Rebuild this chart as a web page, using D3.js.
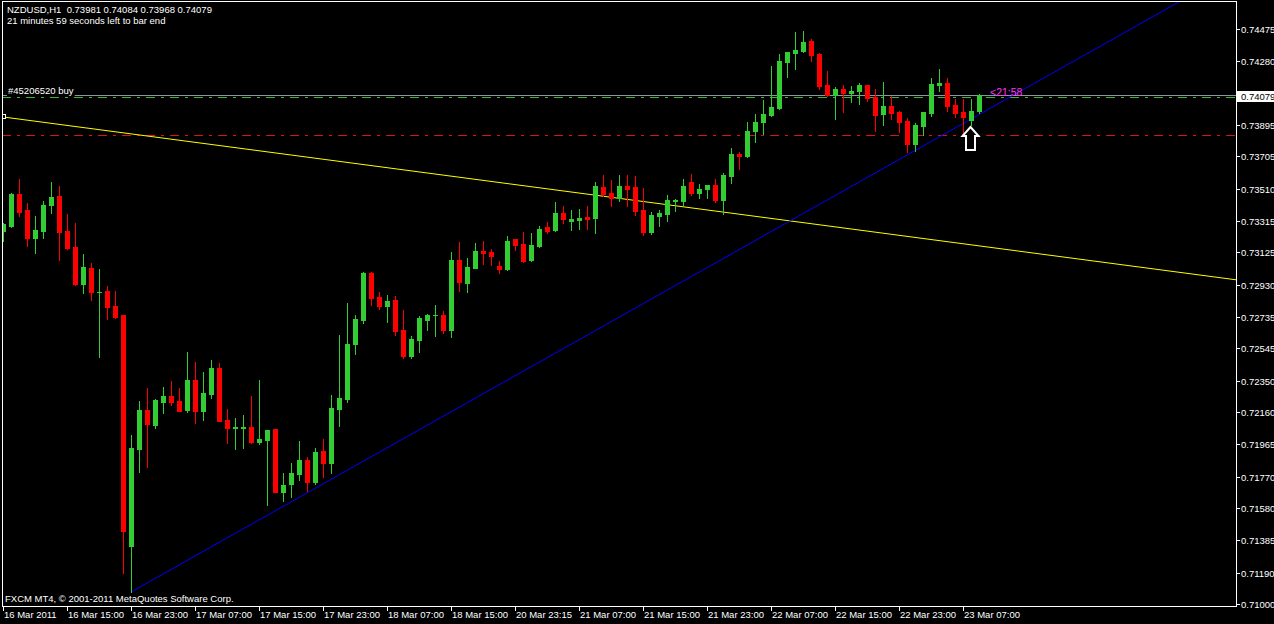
<!DOCTYPE html>
<html><head><meta charset="utf-8">
<script src="https://cdn.jsdelivr.net/npm/d3@7"></script>
<style>html,body{margin:0;padding:0;background:#000;overflow:hidden}</style>
</head><body>
<script>
// ---- data (NZDUSD H1, one bar per hour) ----
const opens=[0.73254,0.73284,0.73478,0.73381,0.73214,0.73256,0.73413,0.73466,0.73254,0.73157,0.72936,0.73030,0.72885,0.72891,0.72801,0.72746,0.71352,0.71939,0.72172,0.72082,0.72222,0.72257,0.72227,0.72172,0.72354,0.72168,0.72271,0.72426,0.72112,0.72065,0.72065,0.72068,0.71981,0.71993,0.72058,0.71679,0.71727,0.71787,0.71870,0.71739,0.71925,0.71854,0.72180,0.72241,0.72573,0.72718,0.73000,0.72855,0.72803,0.72837,0.72656,0.72501,0.72597,0.72718,0.72744,0.72746,0.72658,0.73079,0.72942,0.73032,0.73133,0.73127,0.73043,0.73024,0.73206,0.73175,0.73081,0.73165,0.73278,0.73262,0.73363,0.73316,0.73322,0.73339,0.73334,0.73520,0.73484,0.73455,0.73526,0.73520,0.73381,0.73250,0.73347,0.73359,0.73438,0.73437,0.73550,0.73486,0.73510,0.73532,0.73441,0.73588,0.73719,0.73709,0.73860,0.73915,0.73957,0.73997,0.74275,0.74332,0.74342,0.74402,0.74324,0.74136,0.74076,0.74112,0.74088,0.74100,0.74136,0.74064,0.73961,0.74009,0.73973,0.73919,0.73780,0.73889,0.73967,0.74136,0.74148,0.74015,0.73973,0.73925,0.73981];
const highs=[0.73304,0.73486,0.73568,0.73425,0.73345,0.73435,0.73550,0.73528,0.73357,0.73302,0.73115,0.73061,0.73024,0.72922,0.72891,0.72748,0.72021,0.72227,0.72305,0.72236,0.72311,0.72348,0.72305,0.72523,0.72462,0.72402,0.72475,0.72456,0.72178,0.72126,0.72142,0.72257,0.72354,0.72052,0.72058,0.71792,0.71852,0.71985,0.71888,0.71943,0.71997,0.72263,0.72626,0.72819,0.72746,0.73006,0.73006,0.72885,0.72867,0.72861,0.72777,0.72620,0.72740,0.72753,0.72807,0.72771,0.73127,0.73188,0.73091,0.73182,0.73194,0.73145,0.73073,0.73224,0.73208,0.73248,0.73242,0.73284,0.73308,0.73429,0.73405,0.73381,0.73387,0.73405,0.73550,0.73592,0.73562,0.73592,0.73592,0.73586,0.73514,0.73369,0.73381,0.73472,0.73447,0.73568,0.73598,0.73538,0.73534,0.73568,0.73605,0.73756,0.73731,0.73913,0.73961,0.74046,0.74251,0.74324,0.74338,0.74457,0.74463,0.74414,0.74330,0.74221,0.74124,0.74136,0.74130,0.74148,0.74138,0.74112,0.74154,0.74070,0.73979,0.73937,0.73907,0.73975,0.74179,0.74233,0.74179,0.74052,0.74052,0.74052,0.74084];
const lows=[0.73195,0.73280,0.73345,0.73163,0.73123,0.73214,0.73365,0.73081,0.73145,0.72928,0.72881,0.72839,0.72494,0.72722,0.72730,0.71186,0.71074,0.71800,0.71830,0.72065,0.72156,0.72203,0.72168,0.72160,0.72096,0.72114,0.72247,0.72105,0.71975,0.71939,0.71945,0.71975,0.71965,0.71598,0.71676,0.71624,0.71648,0.71749,0.71685,0.71727,0.71769,0.71793,0.72077,0.72222,0.72513,0.72700,0.72809,0.72785,0.72706,0.72627,0.72488,0.72488,0.72525,0.72658,0.72621,0.72640,0.72615,0.72893,0.72887,0.73032,0.73056,0.73050,0.73002,0.73018,0.73141,0.73069,0.73075,0.73159,0.73244,0.73256,0.73302,0.73260,0.73266,0.73266,0.73244,0.73467,0.73407,0.73437,0.73407,0.73351,0.73232,0.73238,0.73286,0.73316,0.73377,0.73413,0.73473,0.73455,0.73455,0.73431,0.73357,0.73546,0.73631,0.73703,0.73794,0.73842,0.73951,0.73991,0.74185,0.74233,0.74336,0.74281,0.74112,0.74073,0.73931,0.73973,0.74034,0.74022,0.74040,0.73858,0.73895,0.73931,0.73852,0.73731,0.73737,0.73834,0.73949,0.74100,0.73979,0.73943,0.73834,0.73895,0.73968];
const closes=[0.73295,0.73478,0.73371,0.73214,0.73260,0.73411,0.73460,0.73250,0.73153,0.72934,0.73037,0.72887,0.72888,0.72797,0.72734,0.71441,0.71943,0.72172,0.72088,0.72233,0.72257,0.72222,0.72168,0.72354,0.72168,0.72275,0.72426,0.72108,0.72065,0.72068,0.72068,0.71981,0.71997,0.72052,0.71679,0.71719,0.71792,0.71870,0.71739,0.71919,0.71854,0.72184,0.72245,0.72571,0.72722,0.73000,0.72851,0.72803,0.72831,0.72652,0.72501,0.72601,0.72728,0.72746,0.72745,0.72658,0.73079,0.72948,0.73037,0.73133,0.73123,0.73105,0.73024,0.73194,0.73171,0.73075,0.73169,0.73266,0.73254,0.73363,0.73327,0.73327,0.73333,0.73328,0.73526,0.73479,0.73455,0.73526,0.73508,0.73375,0.73250,0.73351,0.73363,0.73441,0.73441,0.73526,0.73486,0.73508,0.73532,0.73443,0.73592,0.73719,0.73709,0.73858,0.73913,0.73961,0.74003,0.74281,0.74336,0.74348,0.74396,0.74318,0.74130,0.74076,0.74112,0.74088,0.74100,0.74136,0.74058,0.73955,0.74009,0.73967,0.73913,0.73780,0.73895,0.73973,0.74142,0.74148,0.74009,0.73967,0.73943,0.73979,0.74079];

const timeTickBars=[0,8,16,24,32,40,48,56,64,72,80,88,96,104,112,120];
const timeTickLabels=["16 Mar 2011","16 Mar 15:00","16 Mar 23:00","17 Mar 07:00","17 Mar 15:00","17 Mar 23:00","18 Mar 07:00","18 Mar 15:00","20 Mar 23:15","21 Mar 07:00","21 Mar 15:00","21 Mar 23:00","22 Mar 07:00","22 Mar 15:00","22 Mar 23:00","23 Mar 07:00"];
const priceTickLabels=["0.74475","0.74280","0.73895","0.73705","0.73510","0.73315","0.73125","0.72930","0.72735","0.72545","0.72350","0.72160","0.71965","0.71770","0.71580","0.71385","0.71190","0.71000"];

const bidPrice=0.74079;
const orderPrice=0.74064;
const stopPrice=0.73833;
const yellowLine=[{bar:0,price:0.73943},{bar:122,price:0.73164}];
const blueLine=[{bar:16,price:0.71074},{bar:122,price:0.73960}];
const arrowBar=121;

// ---- drawing ----
const W=1274,H=624;
const L=2,R=1236,T=1,B=606;
const FONT="'Liberation Sans', Arial, sans-serif";
const svg=d3.select("body").append("svg").attr("width",W).attr("height",H)
  .style("display","block").style("background","#000");
const x=d3.scaleLinear().domain([0,1]).range([3,11]);
const y=d3.scaleLinear().domain([0.71000,0.74475]).range([604,29]);

svg.append("defs").append("clipPath").attr("id","clip")
  .append("rect").attr("x",L+1).attr("y",T+1).attr("width",R-L-1).attr("height",B-T-1);
const plot=svg.append("g").attr("clip-path","url(#clip)");

const by=Math.round(y(bidPrice));

// horizontal order lines
plot.append("line").attr("x1",L).attr("x2",R).attr("y1",Math.round(y(orderPrice))+0.5).attr("y2",Math.round(y(orderPrice))+0.5)
  .attr("stroke","#3cb43c").attr("stroke-dasharray","9,6,3,6").attr("shape-rendering","crispEdges");
plot.append("line").attr("x1",L).attr("x2",R).attr("y1",Math.round(y(stopPrice))+0.5).attr("y2",Math.round(y(stopPrice))+0.5)
  .attr("stroke","#e01010").attr("stroke-dasharray","9,6,3,6").attr("shape-rendering","crispEdges");
plot.append("line").attr("x1",L).attr("x2",R).attr("y1",by+0.5).attr("y2",by+0.5)
  .attr("stroke","#8a96a8").attr("shape-rendering","crispEdges");

// trend lines (rays)
function ray(pts,color){
  const slope=(pts[1].price-pts[0].price)/(pts[1].bar-pts[0].bar);
  const endBar=170;
  plot.append("line")
    .attr("x1",x(pts[0].bar)+0.5).attr("y1",y(pts[0].price))
    .attr("x2",x(endBar)+0.5).attr("y2",y(pts[0].price+slope*(endBar-pts[0].bar)))
    .attr("stroke",color).attr("stroke-width",1);
}
ray(yellowLine,"#ffff00");
ray(blueLine,"#0000ff");

// candles
const data=opens.map((o,i)=>({i,o,h:highs[i],l:lows[i],c:closes[i]}));
const up="#32cd32",dn="#ff0000";
const g=plot.append("g").attr("shape-rendering","crispEdges");
g.selectAll(".wick").data(data).join("rect")
  .attr("x",d=>x(d.i)).attr("width",1)
  .attr("y",d=>Math.round(y(d.h))).attr("height",d=>Math.max(1,Math.round(y(d.l))-Math.round(y(d.h))+1))
  .attr("fill",d=>d.c>=d.o?up:dn);
g.selectAll(".body").data(data).join("rect")
  .attr("x",d=>x(d.i)-2).attr("width",5)
  .attr("y",d=>Math.round(y(Math.max(d.o,d.c))))
  .attr("height",d=>Math.max(1,Math.round(y(Math.min(d.o,d.c)))-Math.round(y(Math.max(d.o,d.c)))+1))
  .attr("fill",d=>d.c>=d.o?up:dn);

// anchor square of yellow line
plot.append("rect").attr("x",x(yellowLine[0].bar)-1.5).attr("y",y(yellowLine[0].price)-2.5).attr("width",4).attr("height",4)
  .attr("fill","#000").attr("stroke","#fff").attr("shape-rendering","crispEdges");

// arrow
const ax=x(arrowBar)-0.5, ay=Math.round(y(lows[arrowBar]))+2;
plot.append("path")
  .attr("d",`M${ax},${ay} L${ax+8},${ay+9} L${ax+4.5},${ay+9} L${ax+4.5},${ay+23} L${ax-4.5},${ay+23} L${ax-4.5},${ay+9} L${ax-8},${ay+9} Z`)
  .attr("fill","#000").attr("stroke","#fff").attr("stroke-width",2).attr("stroke-linejoin","miter");

// order label
const lbl=svg.append("text").attr("x",8).attr("y",by-1).attr("font-family",FONT).attr("font-size",9.5).attr("fill","#fff").text("#45206520 buy");
const bb=lbl.node().getBBox();
svg.insert("rect","text").attr("x",bb.x-1).attr("y",bb.y).attr("width",bb.width+2).attr("height",by+1-bb.y).attr("fill","#000");

// bar timer
svg.append("text").attr("x",x(122)+11).attr("y",by+1).attr("font-family",FONT).attr("font-size",10.5)
  .attr("fill","#ff33ff").text("<21:58");

// frame
svg.append("rect").attr("x",L+0.5).attr("y",T+0.5).attr("width",R-L).attr("height",B-T)
  .attr("fill","none").attr("stroke","#fff").attr("shape-rendering","crispEdges");

// price axis
const pa=svg.append("g");
priceTickLabels.forEach(t=>{
  const v=+t, yy=Math.round(y(v));
  pa.append("line").attr("x1",R).attr("x2",R+4).attr("y1",yy+0.5).attr("y2",yy+0.5).attr("stroke","#fff").attr("shape-rendering","crispEdges");
  pa.append("text").attr("x",R+5).attr("y",yy+3.5).attr("font-family",FONT).attr("font-size",9.5).attr("fill","#fff").text(t);
});
svg.append("rect").attr("x",R+1).attr("y",by-4).attr("width",W-R-1).attr("height",11).attr("fill","#fff");
svg.append("text").attr("x",R+5).attr("y",by+5).attr("font-family",FONT).attr("font-size",9.5).attr("fill","#000").text(bidPrice.toFixed(5));

// time axis
const ta=svg.append("g");
timeTickBars.forEach((b,k)=>{
  const xx=x(b);
  ta.append("line").attr("x1",xx+0.5).attr("x2",xx+0.5).attr("y1",B).attr("y2",B+5).attr("stroke","#fff").attr("shape-rendering","crispEdges");
  ta.append("text").attr("x",xx+1).attr("y",B+12).attr("font-family",FONT).attr("font-size",9.5).attr("fill","#fff").text(timeTickLabels[k]);
});

// header texts
svg.append("text").attr("x",7).attr("y",13).attr("font-family",FONT).attr("font-size",9.5).attr("fill","#fff")
  .style("white-space","pre").text(`NZDUSD,H1  ${opens[122].toFixed(5)} ${highs[122].toFixed(5)} ${lows[122].toFixed(5)} ${closes[122].toFixed(5)}`);
svg.append("text").attr("x",7).attr("y",24).attr("font-family",FONT).attr("font-size",9.5).attr("fill","#fff")
  .text("21 minutes 59 seconds left to bar end");
svg.append("text").attr("x",5).attr("y",602).attr("font-family",FONT).attr("font-size",9.5).attr("fill","#fff")
  .text("FXCM MT4, © 2001-2011 MetaQuotes Software Corp.");
</script>
</body></html>
